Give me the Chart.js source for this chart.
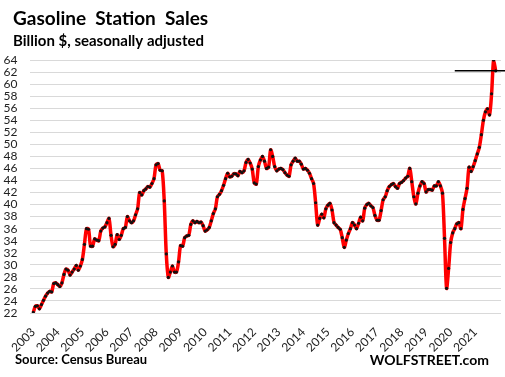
<!DOCTYPE html>
<html>
<head>
<meta charset="utf-8">
<title>Gasoline Station Sales</title>
<script src="https://cdn.jsdelivr.net/npm/chart.js@4.4.0/dist/chart.umd.min.js"></script>
<style>
    body { margin: 0; background: #fff; }
    canvas { display: block; }
</style>
</head>
<body>
<canvas id="salesChart" width="505" height="377"></canvas>
<script>
// Monthly gasoline station sales, billion $, SA (Jun 2003 .. Apr 2022)
const sales = [
    22.1, 23.1, 23.2, 22.7, 23.4, 24.1, 24.8, 25.3, 25.6, 25.5,
    26.9, 27.0, 26.7, 26.4, 27.0, 28.4, 29.3, 29.1, 28.3, 28.8,
    29.3, 29.9, 29.1, 29.8, 30.9, 33.4, 36.0, 35.9, 33.1, 33.1,
    34.3, 34.1, 34.0, 35.6, 36.1, 36.3, 37.0, 37.7, 34.9, 33.0,
    33.4, 35.0, 34.2, 34.9, 36.0, 36.2, 38.0, 37.3, 37.0, 37.3,
    38.3, 39.3, 42.0, 41.6, 42.3, 42.6, 43.0, 42.9, 43.5,
    44.3, 46.6, 46.8, 45.7, 45.6, 40.6, 31.8, 27.9,
    28.8, 29.8, 28.8, 28.8, 30.5, 33.2, 33.1, 34.5, 34.8, 34.9,
    36.7, 37.3, 37.0, 37.2, 37.0, 37.1, 36.5, 35.6, 35.8, 36.2,
    37.3, 38.5, 39.3, 41.3, 41.7, 42.3, 43.2,
    44.3, 45.2, 44.6, 44.7, 45.1, 45.1, 44.8, 45.5, 45.3, 45.6,
    47.0, 47.5, 46.9, 45.9, 43.6, 43.4, 46.3, 47.4, 48.0, 47.2,
    46.0, 46.2, 49.1, 48.0, 46.3, 45.6, 45.9, 46.0, 45.8, 45.3,
    44.9, 44.7,
    46.6, 47.2, 47.7, 47.2, 47.2, 46.7, 45.9, 46.0, 45.7, 45.2,
    44.3, 43.5, 40.3, 36.6,
    37.7, 38.4, 37.8, 39.3, 39.9, 40.2, 39.1, 37.0, 36.6, 36.2,
    35.9, 34.5, 32.9, 34.1, 35.2, 36.0, 37.0, 36.6, 36.0, 36.9,
    37.9, 37.3, 39.4, 40.0, 40.2, 39.8, 39.5, 38.2, 37.4, 37.4,
    39.0, 40.8, 41.3, 42.3, 43.0, 43.3, 43.5, 43.0, 42.7, 43.5,
    43.7, 44.0, 44.4, 44.7, 46.0,
    43.8, 41.3, 40.1, 41.9, 43.1, 43.8, 43.5, 42.1, 42.5, 42.5,
    42.4, 43.1, 43.1, 43.8, 43.1, 41.9, 34.4, 26.1,
    29.4, 33.7, 35.3, 36.0, 36.8, 37.0, 36.0, 39.2, 41.0, 42.7,
    46.2, 45.5, 46.3, 47.3, 48.4, 49.5, 51.6, 54.0, 55.4, 55.9,
    54.9, 58.4, 64.0, 62.2
];

// one label every 12 months, starting with the first month
const yearLabels = ['2003', '2004', '2005', '2006', '2007', '2008', '2009', '2010', '2011', '2012',
    '2013', '2014', '2015', '2016', '2017', '2018', '2019', '2020', '2021'];

const yTicks = [22, 24, 26, 28, 30, 32, 34, 36, 38, 40, 42, 44, 46, 48, 50, 52, 54, 56, 58, 60, 62, 64];

// black marker line at the latest value
const refValue = 62.2;
const refFrom = 206;
const refTo = 232;

const titleText = 'Gasoline  Station  Sales';
const subtitleText = 'Billion $, seasonally adjusted';
const sourceText = 'Source: Census Bureau';
const brandText = 'WOLFSTREET.com';

// texts around the plot
const textPlugin = {
    id: 'texts',
    afterDraw(chart) {
        const ctx = chart.ctx;
        ctx.save();
        ctx.fillStyle = '#000';
        ctx.textBaseline = 'alphabetic';
        ctx.textAlign = 'left';
        ctx.font = 'bold 19px Lato';
        ctx.fillText(titleText, 13, 25);
        ctx.font = 'bold 15px Lato';
        ctx.fillText(subtitleText, 13, 46);
        ctx.font = 'bold 13px Lato';
        ctx.fillText(sourceText, 15, 364);
        ctx.font = 'bold 14px Lato';
        ctx.textAlign = 'right';
        ctx.fillText(brandText, 489, 365);
        ctx.restore();
    }
};

const ctx = document.getElementById('salesChart');
new Chart(ctx, {
    type: 'line',
    data: {
        datasets: [{
            label: 'Sales',
            data: sales.map((v, i) => ({ x: i, y: v })),
            borderColor: '#ff0000',
            borderWidth: 3.5,
            tension: 0.3,
            pointRadius: 1.6,
            pointBackgroundColor: '#111',
            pointBorderWidth: 0,
            order: 2
        }, {
            label: 'Latest',
            data: [{ x: refFrom, y: refValue }, { x: refTo, y: refValue }],
            borderColor: '#000',
            borderWidth: 1.5,
            pointRadius: 0,
            clip: false,
            order: 1
        }]
    },
    options: {
        responsive: false,
        devicePixelRatio: 1,
        animation: false,
        layout: {
            padding: { top: 60, right: 1, bottom: 0, left: 0 }
        },
        plugins: {
            legend: { display: false },
            tooltip: { enabled: false }
        },
        scales: {
            x: {
                type: 'linear',
                min: -1.85,
                max: 228.6,
                grid: { display: false },
                border: { display: false },
                afterBuildTicks: (axis) => {
                    axis.ticks = yearLabels.map((y, k) => ({ value: k * 12 }));
                },
                afterFit: (axis) => { axis.height = 64; },
                ticks: {
                    autoSkip: false,
                    minRotation: 45,
                    maxRotation: 45,
                    padding: 4,
                    color: '#222',
                    font: { family: 'Lato', size: 12 },
                    callback: (value) => yearLabels[Math.round(value / 12)]
                }
            },
            y: {
                min: 22,
                max: 64,
                grid: { color: '#d9d9d9', lineWidth: 1, drawTicks: false },
                border: { display: false },
                afterBuildTicks: (axis) => {
                    axis.ticks = yTicks.map(v => ({ value: v }));
                },
                afterFit: (axis) => { axis.width = 29.5; },
                ticks: {
                    autoSkip: false,
                    padding: 12,
                    color: '#222',
                    font: { family: 'Lato', size: 12 }
                }
            }
        }
    },
    plugins: [textPlugin]
});
</script>
</body>
</html>
